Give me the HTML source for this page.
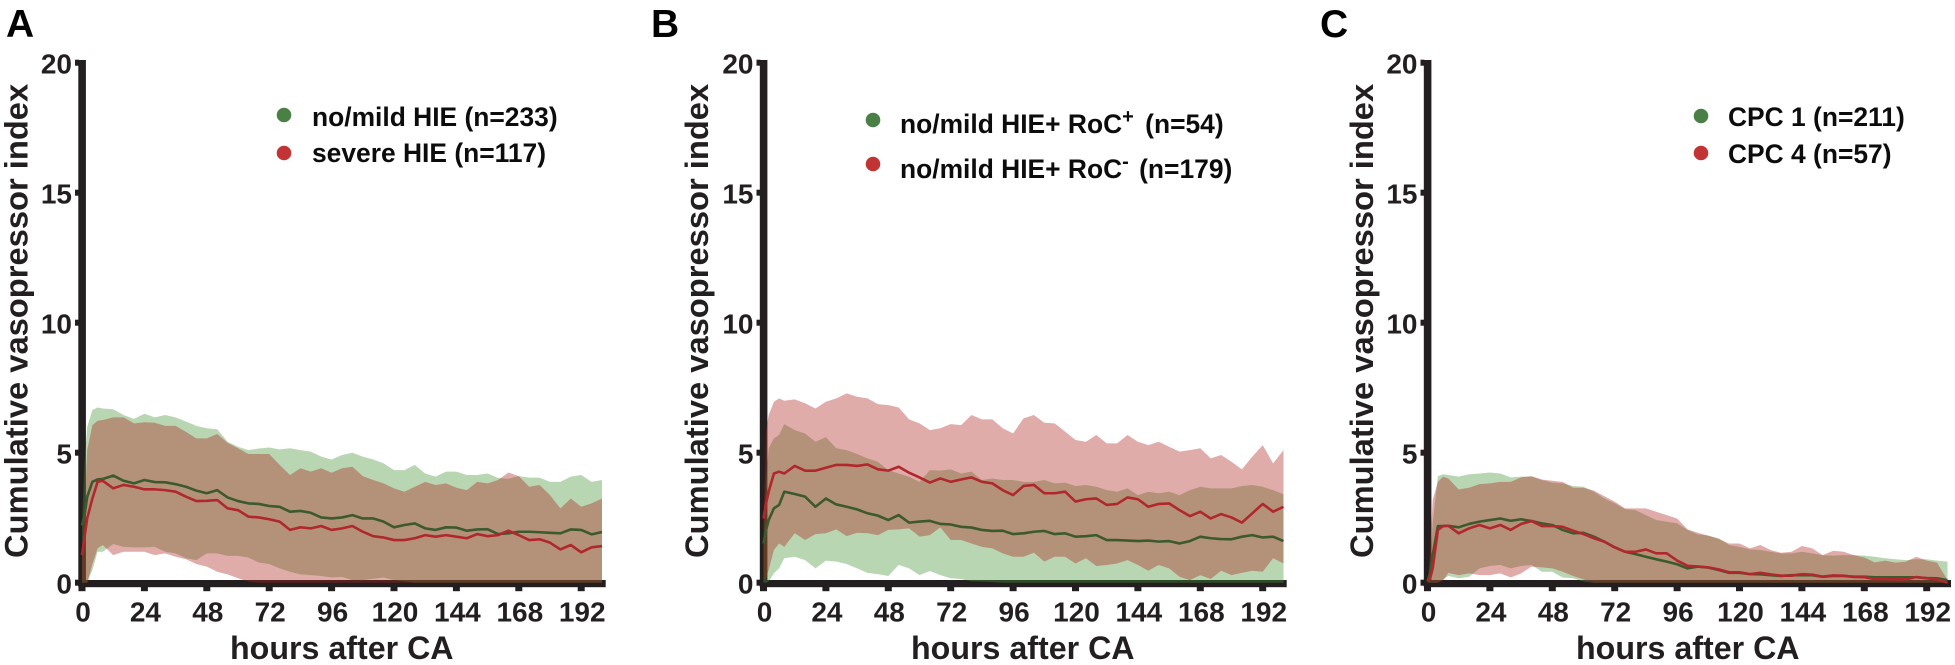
<!DOCTYPE html>
<html lang="en">
<head>
<meta charset="utf-8">
<title>Cumulative vasopressor index</title>
<style>
html,body{margin:0;padding:0;background:#fff;width:1955px;height:665px;overflow:hidden}
svg{display:block}
text{font-family:"Liberation Sans",Arial,Helvetica,sans-serif;font-weight:700;fill:#231f20}
.letter{font-size:39px;fill:#000}
.title{font-size:32.2px}
.ytitle{font-size:32.7px}
.legend{font-size:26.4px;fill:#0c0c0c}
.tick{font-size:28px}
</style>
</head>
<body>
<svg id="figure" xmlns="http://www.w3.org/2000/svg" width="1955" height="665" viewBox="0 0 1955 665">
<rect width="1955" height="665" fill="#fff"/>
<g id="panel-a">
<text class="letter" x="6" y="37">A</text>
<text class="ytitle" transform="translate(27.5,558) rotate(-90)">Cumulative vasopressor index</text>
<text class="title" x="230" y="659">hours after CA</text>
</g>
<g id="panel-b">
<text class="letter" x="651" y="37">B</text>
<text class="ytitle" transform="translate(708,558) rotate(-90)">Cumulative vasopressor index</text>
<text class="title" x="911" y="659">hours after CA</text>
</g>
<g id="panel-c">
<text class="letter" x="1320" y="37">C</text>
<text class="ytitle" transform="translate(1373,558) rotate(-90)">Cumulative vasopressor index</text>
<text class="title" x="1576" y="659">hours after CA</text>
</g>
<g id="legends">
<circle cx="284" cy="115" r="7.3" fill="#4a7f45"/>
<text class="legend" x="312" y="126">no/mild HIE (n=233)</text>
<circle cx="284" cy="153" r="7.3" fill="#c23434"/>
<text class="legend" x="312" y="162">severe HIE (n=117)</text>
<circle cx="873" cy="120" r="7.3" fill="#4a7f45"/>
<text class="legend" x="900" y="133">no/mild HIE+ RoC<tspan font-size="20" dy="-10">+</tspan><tspan dy="10" dx="4"> (n=54)</tspan></text>
<circle cx="873" cy="164" r="7.3" fill="#c23434"/>
<text class="legend" x="900" y="178">no/mild HIE+ RoC<tspan font-size="20" dy="-10">-</tspan><tspan dy="10" dx="3"> (n=179)</tspan></text>
<circle cx="1701" cy="116" r="7.3" fill="#4a7f45"/>
<text class="legend" x="1728" y="126">CPC 1 (n=211)</text>
<circle cx="1701" cy="153" r="7.3" fill="#c23434"/>
<text class="legend" x="1728" y="163">CPC 4 (n=57)</text>
</g>
</svg>
<script>
const hours = [0,1,2,4,6,8,12,16,20,24,28,32,36,40,44,48,52,56,60,64,68,72,76,80,84,88,92,96,100,104,108,112,116,120,124,128,132,136,140,144,148,152,156,160,164,168,172,176,180,184,188,192,196,200];
const xTickValues = [0,24,48,72,96,120,144,168,192];
const yTickValues = [0,5,10,15,20];

const aGreenUpper = [2.3,4.7,6.0,6.64,6.74,6.7,6.67,6.45,6.3,6.5,6.36,6.45,6.36,6.2,6.03,5.94,5.9,5.42,5.23,5.1,5.16,5.2,5.13,5.17,5.1,5.04,4.85,4.74,4.91,5.0,4.85,4.74,4.59,4.33,4.33,4.53,4.2,4.08,4.27,4.27,4.14,4.14,4.2,4.03,4.0,4.1,4.04,4.04,3.88,3.88,4.08,4.14,3.88,3.95];
const aGreenLower = [0,0,0,.49,1.19,1.19,1.49,1.38,1.36,1.36,1.38,1.19,1.13,.94,.87,1.13,1.13,1.03,1.03,.97,.77,.72,.55,.42,.32,.29,.26,.2,.22,.1,.1,.15,.2,.1,.05,0,0,0,0,0,0,0,0,0,0,0,0,0,0,0,0,0,0,0];
const aGreenMean = [2.2,2.6,3.3,3.88,3.97,3.99,4.12,3.92,3.82,3.95,3.87,3.86,3.79,3.69,3.54,3.44,3.56,3.28,3.14,3.05,3.03,2.95,2.92,2.73,2.76,2.69,2.51,2.47,2.51,2.6,2.47,2.47,2.35,2.13,2.22,2.28,2.09,2.03,2.13,2.12,2.0,2.05,2.06,1.87,1.9,1.96,1.96,1.94,1.92,1.9,2.05,2.03,1.86,1.95];
const aRedUpper = [1,3,5.1,6.06,6.23,6.26,6.36,6.36,6.13,6.17,6.15,6.03,6.03,5.8,5.55,5.55,5.72,5.38,5.17,4.95,4.95,4.95,4.53,4.14,4.4,4.27,4.4,4.23,4.4,4.46,4.1,3.95,3.82,3.63,3.5,3.69,3.88,3.76,3.82,3.65,3.56,3.88,3.82,3.95,4.24,4.1,3.69,3.76,3.37,2.86,3.24,2.92,3.05,3.24];
const aRedLower = [0,0,0,.72,1.32,1.45,1.06,1.19,1.19,1.19,1.06,1.13,1.0,.9,.72,.62,.42,.32,.17,.04,0,0,0,0,0,0,0,0,0,0,0,0,0,0,0,0,0,0,0,0,0,0,0,0,0,0,0,0,0,0,0,0,0,0];
const aRedMean = [1.06,1.77,2.47,3.24,3.88,3.92,3.63,3.76,3.69,3.59,3.59,3.56,3.5,3.31,3.14,3.15,3.18,2.86,2.79,2.54,2.51,2.44,2.35,2.03,2.13,2.09,2.18,2.03,2.09,2.18,1.96,1.79,1.74,1.64,1.64,1.71,1.83,1.77,1.83,1.77,1.71,1.87,1.79,1.83,2.0,1.83,1.64,1.67,1.54,1.28,1.45,1.17,1.36,1.41];

const bGreenUpper = [1.5,3.95,5.17,5.55,5.68,6.1,5.87,5.74,5.42,5.6,5.17,5.1,4.95,4.78,4.65,4.33,4.2,4.08,3.88,4.33,4.31,4.36,4.2,4.27,3.95,4.01,3.95,3.95,3.88,3.88,3.95,3.82,3.85,3.72,3.76,3.69,3.56,3.5,3.63,3.37,3.5,3.44,3.5,3.37,3.56,3.69,3.63,3.63,3.63,3.72,3.76,3.69,3.56,3.4];
const bGreenLower = [0,0,.04,.36,.55,.94,1.0,.87,.55,.85,.81,.72,.55,.38,.33,.26,.68,.55,.29,.45,.29,.17,.14,.05,.04,.02,0,0,0,0,0,0,0,0,0,0,0,0,0,0,0,0,0,0,0,0,0,0,0,0,0,0,0,0];
const bGreenMean = [1.51,2.03,2.41,2.86,2.99,3.5,3.41,3.31,2.92,3.24,3.01,2.92,2.82,2.67,2.58,2.41,2.6,2.31,2.35,2.38,2.26,2.24,2.15,2.12,2.03,1.99,2.0,1.87,1.9,1.96,1.99,1.87,1.9,1.77,1.79,1.83,1.64,1.64,1.62,1.6,1.62,1.58,1.6,1.51,1.6,1.77,1.71,1.68,1.67,1.77,1.83,1.74,1.77,1.6];
const bRedUpper = [2.5,5.87,6.45,6.96,7.09,7,7.05,6.9,6.7,6.96,7.09,7.28,7.15,7.09,6.87,6.83,6.74,6.28,6.13,5.87,5.94,6.1,6.06,6.45,6.28,6.28,5.94,5.74,6.32,6.45,6.15,6.13,5.81,5.49,5.42,5.68,5.36,5.36,5.68,5.42,5.29,5.42,5.23,5.04,5.1,5.17,4.78,4.91,4.65,4.36,4.85,5.29,4.59,5.1];
const bRedLower = [0,.2,.49,1.26,1.51,1.38,1.9,1.64,1.87,1.9,2.05,1.79,1.92,1.9,1.83,2.03,2.05,2.09,1.77,1.83,2.13,1.64,1.64,1.51,1.38,1.32,1.13,1.0,1.0,1.15,.81,1.0,1.0,.74,.94,.64,.68,.74,.87,.68,.46,.68,.55,.23,.1,.29,.14,.46,.29,.38,.46,.42,.94,.74];
const bRedMean = [2.47,3.05,3.5,4.2,4.27,4.2,4.49,4.31,4.31,4.42,4.53,4.53,4.49,4.55,4.36,4.31,4.46,4.23,4.05,3.85,4.01,3.88,3.97,4.05,3.88,3.82,3.56,3.37,3.72,3.76,3.44,3.44,3.5,3.12,3.21,3.24,2.99,3.03,3.28,3.21,2.92,3.03,3.05,2.79,2.56,2.73,2.47,2.64,2.51,2.31,2.67,3.03,2.73,2.92];

const cGreenUpper = [0,.6,2.28,4.1,4.17,4.14,4.08,4.17,4.2,4.24,4.2,4.05,4.08,4.08,3.95,3.85,3.82,3.72,3.69,3.5,3.24,3.05,2.83,2.79,2.6,2.41,2.35,2.28,2.03,1.86,1.81,1.71,1.45,1.38,1.28,1.26,1.19,1.13,1.13,1.19,1.13,1.06,1.04,1.06,1.06,1.04,1.0,.94,.9,.87,.9,.9,.85,.81];
const cGreenLower = [0,0,0,0,.13,.26,.17,.23,.55,.64,.68,.55,.64,.68,.42,.42,.2,.17,.04,0,0,0,0,0,0,0,0,0,0,0,0,0,0,0,0,0,0,0,0,0,0,0,0,0,0,0,0,0,0,0,0,0,0,0];
const cGreenMean = [.05,.36,1.06,2.18,2.18,2.19,2.13,2.26,2.35,2.41,2.47,2.38,2.44,2.37,2.28,2.22,2.03,1.9,1.92,1.77,1.58,1.36,1.19,1.1,1.0,.9,.81,.71,.55,.62,.58,.49,.38,.38,.33,.32,.29,.26,.29,.29,.29,.23,.26,.26,.23,.23,.21,.21,.21,.21,.21,.18,.17,.1];
const cRedUpper = [0,1.26,3.18,3.88,4.08,4.01,3.59,3.65,3.79,3.82,3.88,3.88,4.05,4.1,3.97,3.92,3.88,3.65,3.65,3.54,3.33,3.12,2.86,2.86,2.86,2.73,2.6,2.47,2.05,1.92,1.81,1.68,1.51,1.51,1.32,1.45,1.26,1.15,1.19,1.41,1.32,1.06,1.23,1.19,1.06,.97,.78,.85,.77,.81,1.0,.85,.77,.1];
const cRedLower = [0,0,0,0,.08,.38,.29,.36,.29,.29,.36,.2,.36,.62,.59,.55,.42,.26,.13,0,0,0,0,0,0,0,0,0,0,0,0,0,0,0,0,0,0,0,0,0,0,0,0,0,0,0,0,0,0,0,0,0,0,0];
const cRedMean = [.1,.17,.55,2.03,2.18,2.19,1.9,2.09,2.22,2.09,2.22,2.03,2.26,2.37,2.18,2.18,2.15,2.0,1.87,1.71,1.58,1.36,1.19,1.19,1.28,1.13,1.13,.85,.65,.62,.59,.51,.4,.4,.33,.38,.32,.27,.27,.33,.31,.23,.28,.27,.22,.21,.14,.14,.13,.13,.22,.17,.13,0];

const NS = 'http://www.w3.org/2000/svg';

function make(parent, tag, attrs) {
  const el = document.createElementNS(NS, tag);
  for (const k in attrs) el.setAttribute(k, attrs[k]);
  parent.appendChild(el);
  return el;
}

function drawPanel(id, originX, endX, series) {
  const g = document.getElementById(id);
  const xScale = h => originX + 2.6 * h;
  const yScale = v => 582.7 - 26 * v;
  const linePath = values => values.map((v, i) => (i ? 'L' : 'M') + xScale(hours[i]).toFixed(2) + ' ' + yScale(v).toFixed(2)).join('');
  const bandPath = (upper, lower) => {
    let d = linePath(upper);
    for (let i = lower.length - 1; i >= 0; i--) d += 'L' + xScale(hours[i]).toFixed(2) + ' ' + yScale(lower[i]).toFixed(2);
    return d + 'Z';
  };

  const yAxis = make(g, 'rect', {x: originX - 3.7, y: yScale(20) - 2.7, width: 7.6, height: yScale(0) - yScale(20) + 6.3, fill: '#231f20'});
  
  
  const xAxis = make(g, 'rect', {x: originX - 3.7, y: yScale(0) - 2.7, width: endX - originX + 3.7, height: 7.2, fill: '#231f20'});
  
  

  yTickValues.forEach(v => {
    const tick = make(g, 'rect', {x: originX - 7, y: yScale(v) - 3, width: 4, height: 6, fill: '#231f20'});
    
    
    const label = make(g, 'text', {class: 'tick', x: originX - 10, y: yScale(v) + 11, 'text-anchor': 'end'});
    label.textContent = String(v);
    
    
  });
  xTickValues.forEach(h => {
    const tick = make(g, 'rect', {x: xScale(h) - 3.5, y: yScale(0) + 4, width: 7, height: 4.5, fill: '#231f20'});
    
    
    const label = make(g, 'text', {class: 'tick', x: xScale(h) + 1, y: 621.7, 'text-anchor': 'middle'});
    label.textContent = String(h);
    
    
  });

  const greenBand = make(g, 'path', {d: bandPath(series.greenUpper, series.greenLower), fill: '#479337', 'fill-opacity': 0.38});
  
  
  const redBand = make(g, 'path', {d: bandPath(series.redUpper, series.redLower), fill: '#ad251d', 'fill-opacity': 0.38});
  
  
  const greenLine = make(g, 'path', {d: linePath(series.greenMean), fill: 'none', stroke: '#3c5a2e', 'stroke-width': 2.6, 'stroke-linejoin': 'round'});
  
  
  const redLine = make(g, 'path', {d: linePath(series.redMean), fill: 'none', stroke: '#b0282d', 'stroke-width': 2.6, 'stroke-linejoin': 'round'});
  
  
}

drawPanel('panel-a', 82, 605.7, {greenUpper: aGreenUpper, greenLower: aGreenLower, greenMean: aGreenMean, redUpper: aRedUpper, redLower: aRedLower, redMean: aRedMean});
drawPanel('panel-b', 763.5, 1286.7, {greenUpper: bGreenUpper, greenLower: bGreenLower, greenMean: bGreenMean, redUpper: bRedUpper, redLower: bRedLower, redMean: bRedMean});
drawPanel('panel-c', 1427.5, 1951, {greenUpper: cGreenUpper, greenLower: cGreenLower, greenMean: cGreenMean, redUpper: cRedUpper, redLower: cRedLower, redMean: cRedMean});
</script>
</body>
</html>
